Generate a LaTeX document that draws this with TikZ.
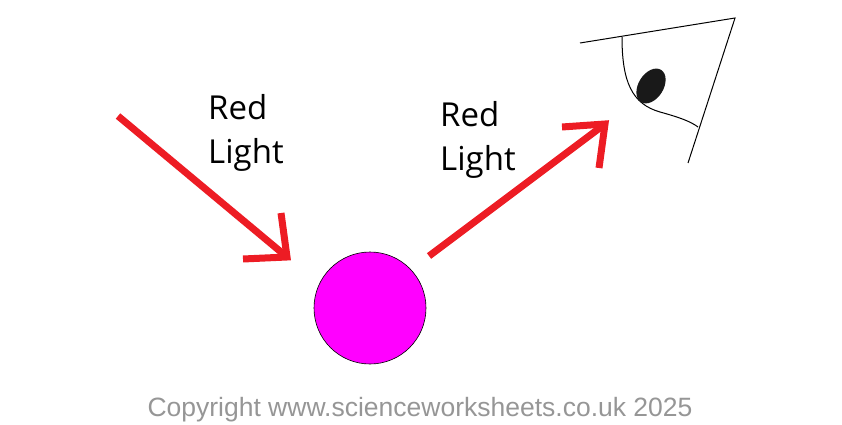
\documentclass[tikz,border=0pt]{standalone}
\usepackage{fontspec}
\setmainfont{Open Sans}
\newfontfamily\arialf{Liberation Sans}
\definecolor{ared}{RGB}{237,28,36}
\definecolor{cgray}{RGB}{150,150,150}
\definecolor{ballc}{RGB}{255,0,255}
\begin{document}
\begin{tikzpicture}[x=1pt,y=-1pt,
  ray/.style={draw=ared,line width=7pt,line cap=butt,line join=miter},
  lbl/.style={align=left,anchor=north west,font=\fontsize{33}{44}\selectfont,inner sep=0pt}]
\useasboundingbox (0,0) rectangle (842,425);
% arrow 1
\coordinate (a1s) at (118,116);
\coordinate (a1e) at (287,257);
\draw[ray] (a1s) -- (a1e);
\draw[ray] (243,259) -- (a1e) -- (281,213);
% arrow 2
\coordinate (a2s) at (429,256);
\coordinate (a2e) at (605,124);
\draw[ray] (a2s) -- (a2e);
\draw[ray] (562,127) -- (a2e) -- (599,168);
% ball
\node[circle,draw=black,line width=0.6pt,fill=ballc,minimum size=112pt,inner sep=0pt] (ball) at (370,308) {};
% labels
\node[lbl] (l1) at (208,94) {Red\\Light};
\node[lbl] (l2) at (440,101) {Red\\Light};
% eye
\draw[line width=1pt] (580,43) -- (735,18) -- (688,163);
\draw[line width=1pt] (622,37) .. controls (622,82) and (632,104) .. (660,112) .. controls (678,117) and (690,121) .. (698,127);
\fill[black!90] (651,86) ellipse[x radius=19,y radius=12.5,rotate=58];
% copyright
\node[font=\arialf\fontsize{26.5}{30}\selectfont,text=cgray] (c) at (420,410) {Copyright www.scienceworksheets.co.uk 2025};
\end{tikzpicture}
\end{document}
